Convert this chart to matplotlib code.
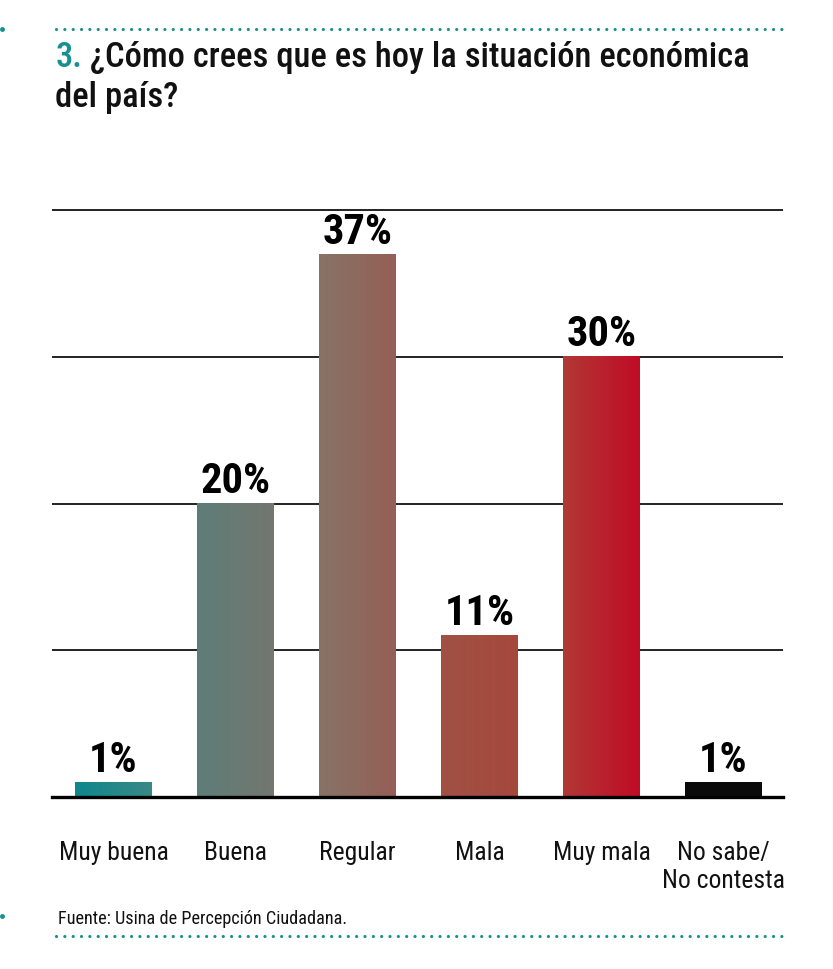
import matplotlib
matplotlib.use('Agg')
import matplotlib.pyplot as plt
import numpy as np
from matplotlib import font_manager as fm
from matplotlib import transforms
from matplotlib.colors import LinearSegmentedColormap
from matplotlib.lines import Line2D

# ---------------- data ----------------
categories = ['Muy buena', 'Buena', 'Regular', 'Mala', 'Muy mala', 'No sabe/\nNo contesta']
values = [1, 20, 37, 11, 30, 1]
value_labels = ['1%', '20%', '37%', '11%', '30%', '1%']
grid_ticks = [10, 20, 30, 40]
title_num = '3.'
title_line1 = '¿Cómo crees que es hoy la situación económica'
title_line2 = 'del país?'
source = 'Fuente: Usina de Percepción Ciudadana.'

# ---------------- styles ----------------
TEAL = '#17918f'
INK = '#111111'
grad_stops = [(0.000, '#0e878d'), (0.137, '#3b8786'), (0.215, '#5e7d78'),
              (0.351, '#737770'), (0.431, '#877466'), (0.567, '#955f56'),
              (0.647, '#a05244'), (0.784, '#a6473d'), (0.863, '#b13935'),
              (1.000, '#c00c26')]
cmap = LinearSegmentedColormap.from_list('teal_red', grad_stops)
bar_fill = ['gradient'] * 5 + ['#0a0a0a']

names = {f.name for f in fm.fontManager.ttflist}
FONT = 'DejaVu Sans'
STRETCH = 'normal'
for cand in ['Liberation Sans Narrow', 'Roboto Condensed', 'Open Sans Condensed']:
    if cand in names:
        FONT = cand
        break
else:
    if any(f.name == 'DejaVu Sans' and 'Condensed' in f.fname for f in fm.fontManager.ttflist):
        FONT, STRETCH = 'DejaVu Sans', 'condensed'
    elif 'Roboto' in names:
        FONT = 'Roboto'
plt.rcParams['font.family'] = [FONT, 'DejaVu Sans']
plt.rcParams['font.stretch'] = STRETCH

W, H = 833, 969
fig = plt.figure(figsize=(W / 100, H / 100), dpi=100)
fig.patch.set_facecolor('white')


def fx(px):
    return px / W


def fy(py):
    return 1 - py / H


renderer = fig.canvas.get_renderer()


def fit(t, target_px):
    w = t.get_window_extent(renderer).width
    t.set_fontsize(t.get_fontsize() * target_px / w)
    return t.get_fontsize()


# ---------------- axes ----------------
ax = fig.add_axes([fx(52), 172 / H, 731 / W, 587 / H])
x = np.arange(len(categories))
width = 0.63
bars = ax.bar(x, values, width=width, color='none', edgecolor='none', zorder=2)

x_start = bars[0].get_x()
x_end = bars[4].get_x() + bars[4].get_width()
for b, fill in zip(bars, bar_fill):
    x0, x1 = b.get_x(), b.get_x() + b.get_width()
    h = b.get_height()
    if fill == 'gradient':
        t0 = (x0 - x_start) / (x_end - x_start)
        t1 = (x1 - x_start) / (x_end - x_start)
        grad = np.linspace(t0, t1, 256).reshape(1, -1)
        ax.imshow(grad, cmap=cmap, vmin=0, vmax=1, extent=[x0, x1, 0, h],
                  aspect='auto', zorder=3, interpolation='bilinear')
    else:
        b.set_facecolor(fill)
        b.set_zorder(3)

ax.set_xlim(-0.504, -0.504 + 731 / 122)
ax.set_ylim(0, 40)
ax.hlines(grid_ticks, -0.504, -0.504 + 731 / 122, colors='#111111', lw=1.3,
          zorder=1, clip_on=False)
ax.axhline(0, color='#000000', lw=2.4, zorder=5, clip_on=False)
ax.set_axis_off()

# value labels
vlabels = []
for xi, v, lab in zip(x, values, value_labels):
    t = ax.annotate(lab, (xi, v), xytext=(0, 7.5), textcoords='offset points',
                    ha='center', va='baseline', fontsize=22, fontweight='heavy',
                    color='#000000', zorder=6)
    vlabels.append(t)
fs = fit(vlabels[2], 70)
for t in vlabels:
    t.set_fontsize(fs)

# category labels
bt = transforms.blended_transform_factory(ax.transData, fig.transFigure)
cat_texts = []
for xi, cat in zip(x, categories):
    for k, line in enumerate(cat.split('\n')):
        t = ax.text(xi, fy(860 + 28 * k), line, transform=bt, ha='center',
                    va='baseline', fontsize=17, color=INK)
        cat_texts.append(t)
fs = fit(cat_texts[0], 110)
for t in cat_texts:
    t.set_fontsize(fs)

# ---------------- title ----------------
t_num = fig.text(fx(56), fy(67), title_num, fontsize=23, color=TEAL,
                 ha='left', va='baseline', fontweight='medium')
t_l1 = fig.text(fx(90), fy(67), title_line1, fontsize=23, color=INK,
                ha='left', va='baseline', fontweight='medium')
fs = fit(t_l1, 662)
t_num.set_fontsize(fs)
t_l2 = fig.text(fx(55), fy(107), title_line2, fontsize=fs, color=INK,
                ha='left', va='baseline', fontweight='medium')

# ---------------- source ----------------
t_src = fig.text(fx(58), fy(924), source, fontsize=13, color=INK,
                 ha='left', va='baseline')
fit(t_src, 289)

# ---------------- dotted rules ----------------
for yy in (29, 936):
    fig.add_artist(Line2D([fx(56), fx(787)], [fy(yy), fy(yy)], color=TEAL,
                          lw=2.3, linestyle=(0, (0.01, 2.6)),
                          dash_capstyle='round', transform=fig.transFigure))
for yy in (29, 916):
    fig.add_artist(Line2D([fx(2)], [fy(yy)], marker='o', ms=2.5, color=TEAL,
                          transform=fig.transFigure))

fig.savefig('out.png', dpi=100, facecolor='white')
